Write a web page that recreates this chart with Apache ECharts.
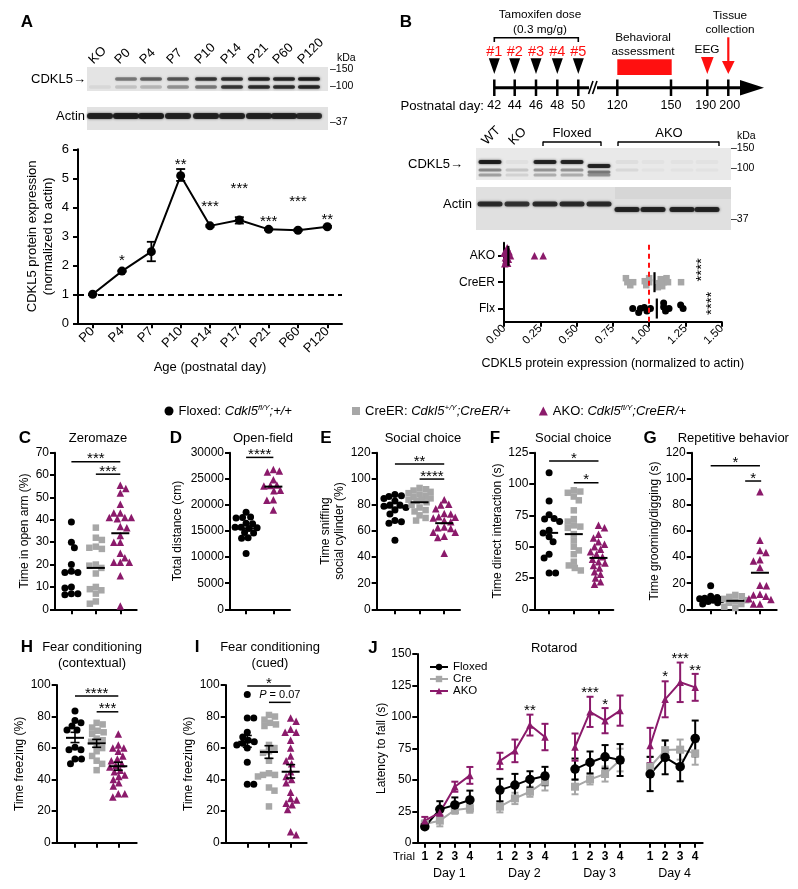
<!DOCTYPE html>
<html>
<head>
<meta charset="utf-8">
<title>CDKL5 figure</title>
<script src="https://cdn.jsdelivr.net/npm/echarts@6/dist/echarts.min.js"></script>
<style>
html,body{margin:0;padding:0;background:#fff;}
#chart{width:798px;height:889px;}
</style>
</head>
<body>
<div id="chart"></div>
<script>
// ===================== DATA =====================
// Panel A: developmental CDKL5 expression
const ageCategories = ['P0','P4','P7','P10','P14','P17','P21','P60','P120'];
const ageExpression = [1.00, 1.80, 2.47, 5.09, 3.36, 3.56, 3.24, 3.21, 3.33];
const ageSemLow  = [1.00, 1.78, 2.14, 4.91, 3.33, 3.44, 3.21, 3.18, 3.30];
const ageSemHigh = [1.00, 1.82, 2.81, 5.32, 3.39, 3.66, 3.27, 3.24, 3.36];
const ageSigText  = ['', '*', '', '**', '***', '***', '***', '***', '**'];
const ageSigValue = [null, 2.26, null, 5.57, 4.14, 4.77, 3.63, 4.32, 3.70];

// Panel A blot (lane labels + band intensities)
const blotALabels = ['KO','P0','P4','P7','P10','P14','P21','P60','P120'];
const blotAUpper  = [0, .45, .55, .6, .75, .8, .85, .85, .9];
const blotALower  = [.06, .15, .2, .35, .45, .75, .8, .8, .85];
const blotAActin  = [.85, .9, .9, .85, .85, .85, .85, .85, .8];

// Panel B timeline
const timelineDays = ['42','44','46','48','50','120','150','190','200'];
const doseLabels = ['#1','#2','#3','#4','#5'];
// Panel B blot
const blotBMain   = [.9, .04, .85, .85, .85, .05, .03, .03, .03];
const blotBSecond = [.4, .15, .35, .35, .45, .08, .03, .03, .03];
const blotBThird  = [.3, .1, .25, .25, .35, 0, 0, 0, 0];
const blotBActin  = [.8, .75, .8, .8, .8, .85, .85, .85, .85];

// Panel B quantification
const bCategories = ['Flx','CreER','AKO'];
const bFlx   = [0.94, 0.985, 0.887, 0.928, 1.009, 0.967, 1.10, 1.234, 1.10, 1.137, 1.217, 1.113];
const bCreER = [0.84, 0.85, 0.87, 0.89, 0.97, 0.98, 1.0, 1.0, 1.06, 1.07, 1.08, 1.09, 1.1, 1.12, 1.13, 1.22];
const bAKO   = [0.0, 0.005, 0.01, 0.012, 0.015, 0.02, 0.022, 0.025, 0.03, 0.035, 0.045, 0.21, 0.27];
const bMeans = [1.053, 1.037, 0.03];
const bSig   = [[1.42, 1.2, '****'], [1.35, 2.47, '****']];

// C Zeromaze (%)
const zeromazeFloxed = [39, 30, 27.5, 20, 17, 16.5, 16.5, 10, 9.5, 7, 7, 6.5];
const zeromazeCreER  = [36.5, 32, 31, 28, 27.5, 27, 20, 19.5, 18.5, 16, 10, 9, 8.5, 7, 3.5, 2.5];
const zeromazeAKO    = [55.5, 54, 52, 47, 43, 43, 41, 41, 41, 40.5, 37, 36.5, 33, 30, 30, 25, 23, 21, 21, 21, 15, 1.5];
const zeromazeCenter = [16.5, 18.5, 34];
const zeromazeSig    = [[1, 3, 66, '***'], [2, 3, 60.4, '***']];

// D Open field (cm)
const openFieldFloxed = [18600, 17600, 17500, 17700, 16500, 16400, 15700, 15600, 15500, 15700, 14700, 14600, 13700, 13600, 10700];
const openFieldAKO    = [26800, 26500, 26300, 24800, 23800, 23700, 23600, 22800, 22700, 21000, 20900, 19000];
const openFieldCenter = [15500, 23500];
const openFieldSig    = [[1, 2, 29100, '****']];

// E Social choice, sniffing (%)
const sniffFloxed = [88, 87, 86.5, 85, 83, 80, 80, 79, 78, 76, 73, 68, 67, 66, 53];
const sniffCreER  = [93, 92, 91, 90, 89, 88, 87, 86, 85, 84, 84, 83, 82, 80, 78, 76, 75, 72, 70, 68];
const sniffAKO    = [84, 80.5, 80, 77, 73.5, 73, 71, 70.5, 70, 68, 67, 63, 62.5, 62, 59, 59, 56, 55, 43];
const sniffCenter = [78, 82, 66];
const sniffSig    = [[1, 3, 111.3, '**'], [2, 3, 99.8, '****']];

// F Social choice, direct interaction (s)
const directFloxed = [109, 86.5, 75.5, 72.5, 72, 70, 63, 61, 58, 54, 44, 41, 29, 29];
const directCreER  = [95, 94, 93, 90, 87, 79, 72, 70, 67, 66, 65, 60, 55, 50, 47, 44, 38, 35, 33, 31];
const directAKO    = [67, 65, 60, 57, 54, 52, 50, 48, 46, 44, 42, 40, 38, 37, 35, 33, 30, 28, 25, 22, 20];
const directCenter = [61, 60, 41];
const directSig    = [[1, 3, 118.4, '*'], [2, 3, 101, '*']];

// G Repetitive behavior (s)
const groomFloxed = [18, 10, 9, 8.5, 8, 7.5, 7, 6, 5, 4];
const groomCreER  = [11, 10, 9.5, 8, 7, 6, 5, 4, 2, 1];
const groomAKO    = [90, 53, 45, 43.5, 38, 37, 32, 18.5, 18, 11.5, 11, 10, 8, 7.5, 4, 4];
const groomCenter = [8, 6.5, 28];
const groomSig    = [[1, 3, 110, '*'], [2.4, 3.05, 98.3, '*']];

// H Fear conditioning contextual (%)
const contextFloxed = [83.5, 77.5, 76, 74, 71.5, 71.5, 60.5, 59, 59, 53, 53, 50];
const contextCreER  = [76, 75, 73, 71, 70, 69, 66, 65, 64, 62, 60, 58, 55, 52, 50, 46];
const contextAKO    = [69, 62, 60, 60, 58, 55, 53, 52, 50, 49, 48, 46, 45, 43, 42, 40, 38, 36, 31, 31, 29];
const contextCenter = [66.5, 63, 48.5];
const contextSemLow = [63.5, 60.5, 46];
const contextSemHigh= [70, 65.5, 51];
const contextSig    = [[1, 3, 93, '****'], [2, 3, 83, '***']];

// I Fear conditioning cued (%)
const cuedFloxed = [94, 79, 79, 70, 67, 65, 64, 63, 62, 60, 51, 37, 37];
const cuedCreER  = [81, 80, 78, 76, 75, 74, 62, 60, 58, 57, 52, 44, 43, 43, 42, 35, 33, 23];
const cuedAKO    = [79, 77, 72, 70, 70, 65, 60, 55, 52, 50, 45, 42, 40, 38, 32, 28, 27, 25, 24, 21, 7, 5];
const cuedCenter = [64, 57.5, 45];
const cuedSemLow = [60.5, 53.5, 41];
const cuedSemHigh= [68, 61.5, 49.5];
const cuedSig    = [[1, 3, 99.4, '*'], [2, 3, 89, 'P = 0.07']];

// J Rotarod (s): 4 days x 4 trials
const rotarodDays = ['Day 1','Day 2','Day 3','Day 4'];
const rotarodTrials = ['1','2','3','4'];
const rotFloxed    = [12.7, 26.5, 30, 34, 41.8, 45.8, 50.3, 53, 58.5, 63.8, 68.3, 65.7, 54.6, 67.8, 60.4, 82.9];
const rotFloxedSem = [1.5, 6.5, 6, 7.4, 9, 8.9, 6.5, 7.3, 8.4, 8.7, 9.3, 12.7, 13.6, 13.4, 11.6, 14.2];
const rotCre       = [14.8, 17.5, 26, 27.3, 28.6, 35.2, 40.5, 48.5, 44.5, 50.3, 54.6, 65.7, 60.4, 73.6, 74, 71];
const rotCreSem    = [3, 4.5, 3, 3.5, 4.5, 4.5, 4, 7, 6, 4, 6, 9, 8, 8, 8, 9];
const rotAKO       = [17.5, 24, 44.5, 53.5, 65, 73, 93.5, 84, 76, 104, 97, 105, 77.3, 114, 127.5, 123.5];
const rotAKOSem    = [3, 3, 4, 6.7, 6.5, 9, 8.3, 10.5, 10.8, 12, 10, 12, 14, 14.3, 15.7, 10.7];
// [day index, trial index, value, text]
const rotarodSig = [[1, 2, 107.7, '**'], [2, 1, 122, '***'], [2, 2, 112, '*'], [3, 1, 134.7, '*'], [3, 2, 149, '***'], [3, 3, 139.4, '**']];

// ===================== STYLE / HELPERS =====================
const FONT = "'Liberation Sans', Arial, Helvetica, sans-serif";
const PURPLE = '#8b1a6b', GRAYC = '#a7a7a7', RED = '#ff1010';
const COL = {Floxed:'#000000', CreER:GRAYC, AKO:PURPLE};
const SYM = {Floxed:'circle', CreER:'rect', AKO:'triangle'};
const SYMSIZE = {Floxed:7, CreER:6.5, AKO:7.5};

function merge(a, b) {
  const out = Object.assign({}, a);
  for (const k in b) {
    if (b[k] && typeof b[k] === 'object' && !Array.isArray(b[k]) && a[k] && typeof a[k] === 'object' && !Array.isArray(a[k])) out[k] = merge(a[k], b[k]);
    else out[k] = b[k];
  }
  return out;
}
function axis(extra) {
  return merge({
    axisLine:{show:true, onZero:false, lineStyle:{color:'#000', width:2}},
    axisTick:{show:true, inside:false, length:5, lineStyle:{color:'#000', width:2}},
    axisLabel:{color:'#000', fontSize:12, fontFamily:FONT, margin:6},
    splitLine:{show:false},
    nameLocation:'middle',
    nameTextStyle:{color:'#000', fontSize:12, fontFamily:FONT}
  }, extra);
}
function swarm(values, pxPerVal, pxPerOff, diam, maxSpread) {
  const idx = values.map((v, i) => i).sort((a, b) => values[b] - values[a]);
  const placed = [];
  const offs = new Array(values.length).fill(0);
  let flip = 1;
  idx.forEach(i => {
    const pv = values[i] * pxPerVal;
    const minDist = o => placed.reduce((m, p) => Math.min(m, Math.hypot(o - p[0], pv - p[1])), Infinity);
    let chosen = null;
    for (let s = 0; s <= maxSpread; s += 0.5) {
      if (minDist(s * flip) >= diam) { chosen = s * flip; break; }
      if (minDist(-s * flip) >= diam) { chosen = -s * flip; break; }
    }
    if (chosen === null) {
      let best = -1;
      for (let s = -maxSpread; s <= maxSpread; s += 0.5) { const d = minDist(s); if (d > best) { best = d; chosen = s; } }
    }
    if (chosen !== 0) flip = -Math.sign(chosen);
    placed.push([chosen, pv]);
    offs[i] = chosen / pxPerOff;
  });
  return offs;
}
function errBar(color, cap, lw) {
  return (params, api) => {
    const x = api.value(0);
    const a = api.coord([x, api.value(1)]), b = api.coord([x, api.value(2)]);
    const st = {stroke:color, lineWidth:lw};
    return {type:'group', children:[
      {type:'line', shape:{x1:a[0], y1:a[1], x2:b[0], y2:b[1]}, style:st},
      {type:'line', shape:{x1:a[0]-cap, y1:a[1], x2:a[0]+cap, y2:a[1]}, style:st},
      {type:'line', shape:{x1:b[0]-cap, y1:b[1], x2:b[0]+cap, y2:b[1]}, style:st}]};
  };
}
function textSeries(gi, items, opts) {
  return {type:'custom', xAxisIndex:gi, yAxisIndex:gi, clip:false, silent:true, z:6,
    data: items.map(it => [it[0], it[1]]),
    renderItem: (params, api) => {
      const it = items[params.dataIndex];
      const c = api.coord([api.value(0), api.value(1)]);
      return {type:'text', x:c[0] + (opts.dx || 0), y:c[1] + (opts.dy || 0), rotation:opts.rot || 0,
        style:{text:it[2], fill:opts.color || '#000', fontSize:opts.size || 15, fontFamily:FONT,
          align:'center', verticalAlign:'middle', textAlign:'center', textVerticalAlign:'middle'}};
    }};
}

const grids = [], xAxes = [], yAxes = [], series = [], legends = [], G = [];

// ===================== PANEL A =====================
grids.push({left:78, top:149.3, width:264, height:174});
xAxes.push(axis({type:'category', gridIndex:0, data:ageCategories, boundaryGap:true,
  axisTick:{alignWithLabel:true}, axisLabel:{rotate:45, margin:6, interval:0, fontSize:13},
  name:'Age (postnatal day)', nameGap:38, nameTextStyle:{fontSize:13}}));
yAxes.push(axis({type:'value', gridIndex:0, min:0, max:6, interval:1, axisLabel:{margin:9, fontSize:13},
  name:'CDKL5 protein expression\n(normalized to actin)', nameGap:22, nameTextStyle:{fontSize:13, lineHeight:16}}));
series.push({type:'custom', xAxisIndex:0, yAxisIndex:0, clip:false, silent:true, z:2,
  data: ageCategories.map((c, i) => [i, ageSemLow[i], ageSemHigh[i]]), renderItem: errBar('#000', 4.5, 1.8)});
series.push({type:'line', name:'CDKL5 expression', xAxisIndex:0, yAxisIndex:0, data:ageExpression,
  symbol:'circle', symbolSize:9, itemStyle:{color:'#000'}, lineStyle:{color:'#000', width:2}, z:3, silent:true,
  markLine:{silent:true, symbol:'none', label:{show:false}, lineStyle:{color:'#000', width:2, type:[6,4]}, data:[{yAxis:1}]}});
series.push(textSeries(0, ageSigValue.map((v, i) => v == null ? null : [i, v, ageSigText[i]]).filter(Boolean), {dy:3.5}));

// ===================== PANEL B quantification =====================
grids.push({left:504, top:242.7, width:217.7, height:79});
xAxes.push(axis({type:'value', gridIndex:1, min:0, max:1.5, interval:0.25,
  axisLabel:{rotate:45, margin:5, fontSize:11.5, formatter:v => v.toFixed(2)},
  name:'CDKL5 protein expression (normalized to actin)', nameGap:35, nameTextStyle:{fontSize:12.5}}));
yAxes.push(axis({type:'value', gridIndex:1, min:0.5, max:3.5,
  axisTick:{customValues:[1,2,3], length:6}, axisLabel:{customValues:[1,2,3], margin:9, fontSize:12, formatter:v => bCategories[Math.round(v) - 1]}}));
[['Floxed', bFlx], ['CreER', bCreER], ['AKO', bAKO]].forEach((g, i) => {
  const offs = swarm(g[1], 144.1, 26.33, 4, 8);
  const s = {type:'scatter', name:g[0], xAxisIndex:1, yAxisIndex:1, silent:true, clip:false, z:3,
    data: g[1].map((v, j) => [v, i + 1 + offs[j]]), symbol:SYM[g[0]], symbolSize:SYMSIZE[g[0]], itemStyle:{color:COL[g[0]], opacity:1}};
  if (i === 0) s.markLine = {silent:true, symbol:'none', label:{show:false}, lineStyle:{color:RED, width:2, type:[5,4]}, data:[{xAxis:1}]};
  series.push(s);
});
series.push({type:'custom', xAxisIndex:1, yAxisIndex:1, clip:false, silent:true, z:4,
  data: bMeans.map((m, i) => [m, i + 1]),
  renderItem: (params, api) => {
    const c = api.coord([api.value(0), api.value(1)]);
    return {type:'line', shape:{x1:c[0], y1:c[1]-10, x2:c[0], y2:c[1]+10}, style:{stroke:'#000', lineWidth:2.2}};
  }});
series.push(textSeries(1, bSig, {rot:Math.PI/2, size:15, dx:2}));

// ===================== PANELS C-I =====================
const scatterPanels = [
  {grid:{left:55, top:452.7, width:81.7, height:156.6}, x:[0.33, 3.67], y:[0, 70, 10], yName:'Time in open arm (%)', nameGap:22,
   names:['Floxed','CreER','AKO'], groups:[zeromazeFloxed, zeromazeCreER, zeromazeAKO], center:zeromazeCenter, sig:zeromazeSig},
  {grid:{left:230, top:452.7, width:60, height:156.6}, x:[0.41, 2.61], y:[0, 30000, 5000], yName:'Total distance (cm)', nameGap:45,
   names:['Floxed','AKO'], groups:[openFieldFloxed, openFieldAKO], center:openFieldCenter, sig:openFieldSig},
  {grid:{left:376.7, top:452.7, width:83.3, height:156.6}, x:[0.26, 3.64], y:[0, 120, 20], yName:'Time sniffing\nsocial cylinder (%)', nameGap:28,
   names:['Floxed','CreER','AKO'], groups:[sniffFloxed, sniffCreER, sniffAKO], center:sniffCenter, sig:sniffSig},
  {grid:{left:534.3, top:452.7, width:79, height:156.6}, x:[0.4, 3.6], y:[0, 125, 25], yName:'Time direct interaction (s)', nameGap:29,
   names:['Floxed','CreER','AKO'], groups:[directFloxed, directCreER, directAKO], center:directCenter, sig:directSig},
  {grid:{left:691.7, top:452.7, width:85, height:156.6}, x:[0.23, 3.68], y:[0, 120, 20], yName:'Time grooming/digging (s)', nameGap:25,
   names:['Floxed','CreER','AKO'], groups:[groomFloxed, groomCreER, groomAKO], center:groomCenter, sig:groomSig},
  {grid:{left:56.7, top:685, width:80, height:157.7}, x:[0.155, 3.85], y:[0, 100, 20], yName:'Time freezing (%)', nameGap:23,
   names:['Floxed','CreER','AKO'], groups:[contextFloxed, contextCreER, contextAKO], center:contextCenter, semLow:contextSemLow, semHigh:contextSemHigh, sig:contextSig},
  {grid:{left:225.7, top:685, width:81, height:157.7}, x:[0.005, 3.74], y:[0, 100, 20], yName:'Time freezing (%)', nameGap:19,
   names:['Floxed','CreER','AKO'], groups:[cuedFloxed, cuedCreER, cuedAKO], center:cuedCenter, semLow:cuedSemLow, semHigh:cuedSemHigh, sig:cuedSig}
];
scatterPanels.forEach(p => {
  const gi = grids.length;
  grids.push(p.grid);
  const cats = p.groups.map((g, i) => i + 1);
  xAxes.push(axis({type:'value', gridIndex:gi, min:p.x[0], max:p.x[1], axisLabel:{show:false}, axisTick:{customValues:cats}}));
  yAxes.push(axis({type:'value', gridIndex:gi, min:p.y[0], max:p.y[1], interval:p.y[2], axisLabel:{formatter:v => String(v)},
    name:p.yName, nameGap:p.nameGap, nameTextStyle:{lineHeight:14}}));
  const pxX = p.grid.width / (p.x[1] - p.x[0]), pxY = p.grid.height / (p.y[1] - p.y[0]);
  p.groups.forEach((vals, i) => {
    const nm = p.names[i];
    const offs = swarm(vals, pxY, pxX, 6.2, 11);
    series.push({type:'scatter', name:nm, xAxisIndex:gi, yAxisIndex:gi, silent:true, clip:false, z:3,
      data: vals.map((v, j) => [i + 1 + offs[j], v]), symbol:SYM[nm], symbolSize:SYMSIZE[nm], itemStyle:{color:COL[nm], opacity:1}});
  });
  series.push({type:'custom', xAxisIndex:gi, yAxisIndex:gi, clip:false, silent:true, z:4,
    data: p.center.map((m, i) => [i + 1, m, p.semLow ? p.semLow[i] : m, p.semHigh ? p.semHigh[i] : m]),
    renderItem: (params, api) => {
      const x = api.value(0);
      const c = api.coord([x, api.value(1)]), lo = api.coord([x, api.value(2)]), hi = api.coord([x, api.value(3)]);
      const st = {stroke:'#000', lineWidth:2};
      const ch = [{type:'line', shape:{x1:c[0]-9, y1:c[1], x2:c[0]+9, y2:c[1]}, style:st}];
      if (p.semLow) {
        ch.push({type:'line', shape:{x1:c[0], y1:lo[1], x2:c[0], y2:hi[1]}, style:{stroke:'#000', lineWidth:1.6}});
        ch.push({type:'line', shape:{x1:c[0]-4.5, y1:lo[1], x2:c[0]+4.5, y2:lo[1]}, style:{stroke:'#000', lineWidth:1.6}});
        ch.push({type:'line', shape:{x1:c[0]-4.5, y1:hi[1], x2:c[0]+4.5, y2:hi[1]}, style:{stroke:'#000', lineWidth:1.6}});
      }
      return {type:'group', children:ch};
    }});
  series.push({type:'custom', xAxisIndex:gi, yAxisIndex:gi, clip:false, silent:true, z:5,
    data: p.sig.map(s => [s[0], s[2]]),
    renderItem: (params, api) => {
      const s = p.sig[params.dataIndex];
      const a = api.coord([s[0], s[2]]), b = api.coord([s[1], s[2]]);
      const isP = s[3].indexOf('P') === 0;
      const st = isP
        ? {text:'{i|P}{n| = 0.07}', rich:{i:{fontStyle:'italic', fontSize:11, fontFamily:FONT, fill:'#000', color:'#000'}, n:{fontSize:11, fontFamily:FONT, fill:'#000', color:'#000'}}, fontSize:11, fontFamily:FONT, fill:'#000'}
        : {text:s[3], fontSize:15, fontFamily:FONT, fill:'#000'};
      Object.assign(st, {align:'center', verticalAlign:'middle', textAlign:'center', textVerticalAlign:'middle'});
      return {type:'group', children:[
        {type:'line', shape:{x1:a[0], y1:a[1], x2:b[0], y2:b[1]}, style:{stroke:'#000', lineWidth:1.5}},
        {type:'text', x:(a[0] + b[0]) / 2, y:a[1] - (isP ? 7 : 2.5), style:st}]};
    }});
});

// ===================== PANEL J =====================
const jGi = grids.length;
const jCats = [];
rotarodDays.forEach((d, di) => {
  rotarodTrials.forEach(t => jCats.push('D' + (di + 1) + '-' + t));
  if (di < rotarodDays.length - 1) jCats.push('gap' + di);
});
const jIndex = (d, t) => d * (rotarodTrials.length + 1) + t;
grids.push({left:417.3, top:654, width:285.4, height:188.7});
xAxes.push(axis({type:'category', gridIndex:jGi, data:jCats, boundaryGap:true,
  axisTick:{alignWithLabel:true, interval:(i, v) => v.indexOf('gap') !== 0},
  axisLabel:{interval:0, margin:8, fontWeight:'bold', fontSize:12, formatter:v => v.indexOf('gap') === 0 ? '' : v.split('-')[1]}}));
yAxes.push(axis({type:'value', gridIndex:jGi, min:0, max:150, interval:25, name:'Latency to fall (s)', nameGap:27}));
[['J-Cre', rotCre, rotCreSem, GRAYC, 'rect', 8], ['J-Floxed', rotFloxed, rotFloxedSem, '#000', 'circle', 9.5], ['J-AKO', rotAKO, rotAKOSem, PURPLE, 'triangle', 7.5]].forEach(g => {
  const full = jCats.map(() => '-');
  const errs = [];
  rotarodDays.forEach((d, di) => rotarodTrials.forEach((t, ti) => {
    const v = g[1][di * 4 + ti], e = g[2][di * 4 + ti];
    full[jIndex(di, ti)] = v;
    errs.push([jIndex(di, ti), v - e, v + e]);
  }));
  series.push({type:'custom', xAxisIndex:jGi, yAxisIndex:jGi, clip:false, silent:true, z:2, data:errs, renderItem:errBar(g[3], 3.5, 2)});
  series.push({type:'line', name:g[0], xAxisIndex:jGi, yAxisIndex:jGi, data:full, connectNulls:false, silent:true, z:3,
    symbol:g[4], symbolSize:g[5], itemStyle:{color:g[3]}, lineStyle:{color:g[3], width:2}});
});
series.push(textSeries(jGi, rotarodSig.map(s => [jIndex(s[0], s[1]), s[2], s[3]]), {dy:3.5}));

// ===================== LEGENDS =====================
const legendRich = {
  n:{fontSize:13, fontFamily:FONT, color:'#000', lineHeight:15},
  i:{fontSize:13, fontFamily:FONT, color:'#000', fontStyle:'italic', lineHeight:15},
  s:{fontSize:8, fontFamily:FONT, color:'#000', fontStyle:'italic', lineHeight:9, verticalAlign:'top'}
};
const legendTexts = {
  Floxed:'{n|Floxed: }{i|Cdkl5}{s|fl/Y}{i|;+/+}',
  CreER:'{n|CreER: }{i|Cdkl5}{s|+/Y}{i|;CreER/+}',
  AKO:'{n|AKO: }{i|Cdkl5}{s|fl/Y}{i|;CreER/+}'
};
[['Floxed', 164.5, 'circle'], ['CreER', 352, 'rect'], ['AKO', 538.8, 'triangle']].forEach(l => {
  legends.push({left:l[1], top:403.5, padding:0, itemWidth:l[2] === 'rect' ? 8 : 9, itemHeight:l[2] === 'rect' ? 8 : 9, selectedMode:false,
    data:[{name:l[0], icon:l[2]}], formatter:n => legendTexts[n], textStyle:{rich:legendRich, lineHeight:15}});
});
legends.push({left:429, top:661, orient:'vertical', padding:0, itemGap:0, itemWidth:18, itemHeight:8, selectedMode:false,
  data:['J-Floxed','J-Cre','J-AKO'], formatter:n => n.slice(2), textStyle:{fontSize:11.5, lineHeight:11.7, color:'#000', fontFamily:FONT}});

// ===================== GRAPHIC (texts, blots, timeline) =====================
function T(x, y, text, o) {
  o = o || {};
  const st = {text:text, fill:o.color || '#000', fontSize:o.size || 13, fontFamily:FONT, fontWeight:o.weight || 'normal', fontStyle:o.style || 'normal',
    align:o.align || 'center', verticalAlign:o.valign || 'middle', textAlign:o.align || 'center', textVerticalAlign:o.valign || 'middle'};
  if (o.rich) st.rich = o.rich;
  G.push({type:'text', x:x, y:y, rotation:o.rot || 0, silent:true, z:100, style:st});
}
function rectEl(x, y, w, h, fill) { return {type:'rect', silent:true, shape:{x:x, y:y, width:w, height:h}, style:{fill:fill}}; }
function lineEl(x1, y1, x2, y2, color, w) { return {type:'line', silent:true, shape:{x1:x1, y1:y1, x2:x2, y2:y2}, style:{stroke:color, lineWidth:w}}; }
function polyEl(points, color) { return {type:'polygon', silent:true, shape:{points:points}, style:{fill:color}}; }
function bandEl(cx, cy, w, h, a) {
  return {type:'rect', silent:true, shape:{x:cx - w/2, y:cy - h/2, width:w, height:h, r:h/2},
    style:{fill:'rgba(20,20,20,' + a + ')', shadowBlur:2.5, shadowColor:'rgba(20,20,20,' + (a * 0.9) + ')'}};
}

// Panel letters
[['A',27,22],['B',406,22],['C',25,438],['D',176,438],['E',326,438],['F',495,438],['G',650,438],['H',27,647.5],['I',197,647.5],['J',373,648.3]]
  .forEach(l => T(l[1], l[2], l[0], {size:17, weight:'bold'}));
// Panel titles
T(98, 438, 'Zeromaze'); T(263, 438, 'Open-field'); T(423, 438, 'Social choice'); T(573.3, 438, 'Social choice');
T(733.3, 438, 'Repetitive behavior');
T(92, 647.7, 'Fear conditioning'); T(92, 663.3, '(contextual)');
T(270, 647.7, 'Fear conditioning'); T(270, 663.3, '(cued)');
T(554, 648.3, 'Rotarod');
// Rotarod x labels
T(404, 856.7, 'Trial', {size:11.5});
rotarodDays.forEach((d, di) => {
  const cx = 417.3 + (jIndex(di, 1.5) + 0.5) * 285.4 / jCats.length;
  T(cx + 2, 873.3, d, {size:12.5});
});

// ---- Blot A ----
const blotALaneX = [100, 126, 151, 178, 206, 232, 259, 284, 309];
G.push(rectEl(87, 67, 241, 24, '#e4e4e4'));
G.push(rectEl(87, 107, 241, 23, '#e2e2e2'));
blotALaneX.forEach((x, i) => {
  if (blotAUpper[i] > 0) G.push(bandEl(x, 79, 22, 3.5, blotAUpper[i]));
  if (blotALower[i] > 0) G.push(bandEl(x, 87, 22, 3.5, blotALower[i]));
  G.push(bandEl(x, 116, 26, 6, blotAActin[i]));
  T(x - 9, 62, blotALabels[i], {size:13, align:'left', rot:Math.PI/4});
});
T(86, 79, 'CDKL5\u2192', {align:'right'}); T(85, 116, 'Actin', {align:'right'});
T(337, 58, 'kDa', {align:'left', size:10.5}); T(330, 69, '\u2013150', {align:'left', size:10.5});
T(330, 86, '\u2013100', {align:'left', size:10.5}); T(330, 122, '\u201337', {align:'left', size:10.5});

// ---- Timeline B ----
const timelineX = [494.3, 514.7, 536, 557.3, 578.3, 617.3, 671, 707.3, 728.3];
const tlY = 87.7;
G.push(lineEl(494.3, tlY, 745, tlY, '#000', 3));
G.push(polyEl([[740, 80], [764, tlY], [740, 95.4]], '#000'));
timelineX.forEach((x, i) => {
  G.push(lineEl(x, 79.5, x, 96, '#000', 2.5));
  const shift = i === 7 ? -1.5 : (i === 8 ? 1.5 : 0);
  T(x + shift, 106, timelineDays[i], {size:12.5});
});
G.push(rectEl(589, 84, 8, 7.5, '#fff'));
G.push(lineEl(588.5, 94, 593, 81, '#000', 1.6)); G.push(lineEl(592.5, 94, 597, 81, '#000', 1.6));
T(484, 106, 'Postnatal day:', {size:13.2, align:'right'});
doseLabels.forEach((d, i) => {
  const x = timelineX[i];
  G.push(polyEl([[x - 5.5, 58.3], [x + 5.5, 58.3], [x, 74]], '#000'));
  T(x, 51.7, d, {size:14.5, color:RED});
});
G.push(lineEl(494.3, 37.7, 578.3, 37.7, '#000', 1.6));
G.push(lineEl(494.3, 37, 494.3, 42, '#000', 1.6)); G.push(lineEl(578.3, 37, 578.3, 42, '#000', 1.6));
T(540, 15, 'Tamoxifen dose', {size:11.8}); T(540, 29.3, '(0.3 mg/g)', {size:11.8});
G.push(rectEl(617.3, 59.3, 54.4, 15.7, RED));
T(643, 37.3, 'Behavioral', {size:11.8}); T(643, 51.7, 'assessment', {size:11.8});
T(707, 50, 'EEG', {size:11.8});
G.push(polyEl([[701, 57], [713.6, 57], [707.3, 74]], RED));
T(730, 15.7, 'Tissue', {size:11.8}); T(730, 30, 'collection', {size:11.8});
G.push(lineEl(728.3, 37.3, 728.3, 64, RED, 2.2));
G.push(polyEl([[722, 61], [734.6, 61], [728.3, 74]], RED));

// ---- Blot B ----
const blotBLaneX = [490, 517, 545, 572, 599, 627, 653, 682, 707];
G.push(rectEl(476, 148, 255, 32, '#e9e9e9'));
G.push(rectEl(476, 187, 255, 43, '#e0e0e0'));
G.push(rectEl(615, 187, 116, 12, '#d6d6d6'));
blotBLaneX.forEach((x, i) => {
  const dy = i === 4 ? 4 : 0;
  if (blotBMain[i] > 0) G.push(bandEl(x, 162 + dy, 23, 4, blotBMain[i]));
  if (blotBSecond[i] > 0) G.push(bandEl(x, 170 + dy * 0.5, 23, 3, blotBSecond[i]));
  if (blotBThird[i] > 0) G.push(bandEl(x, 175, 23, 3, blotBThird[i]));
  G.push(bandEl(x, i < 5 ? 204 : 209.5, 25, 5, blotBActin[i]));
});
T(484, 143, 'WT', {size:13, align:'left', rot:Math.PI/4});
T(511, 143, 'KO', {size:13, align:'left', rot:Math.PI/4});
T(572, 133, 'Floxed'); T(669, 133, 'AKO');
G.push(lineEl(543, 142, 601, 142, '#000', 1.4)); G.push(lineEl(543, 141.5, 543, 146, '#000', 1.4)); G.push(lineEl(601, 141.5, 601, 146, '#000', 1.4));
G.push(lineEl(618, 142, 719, 142, '#000', 1.4)); G.push(lineEl(618, 141.5, 618, 146, '#000', 1.4)); G.push(lineEl(719, 141.5, 719, 146, '#000', 1.4));
T(463, 164, 'CDKL5\u2192', {align:'right'}); T(472, 204, 'Actin', {align:'right'});
T(737, 136, 'kDa', {align:'left', size:10.5}); T(731, 148, '\u2013150', {align:'left', size:10.5});
T(731, 168, '\u2013100', {align:'left', size:10.5}); T(731, 219, '\u201337', {align:'left', size:10.5});

// ===================== OPTION =====================
const chart = echarts.init(document.getElementById('chart'), null, {renderer:'canvas', width:798, height:889});
chart.setOption({
  backgroundColor:'#ffffff',
  animation:false,
  textStyle:{fontFamily:FONT},
  grid:grids,
  xAxis:xAxes,
  yAxis:yAxes,
  legend:legends,
  series:series,
  graphic:{elements:G}
});
</script>
</body>
</html>
